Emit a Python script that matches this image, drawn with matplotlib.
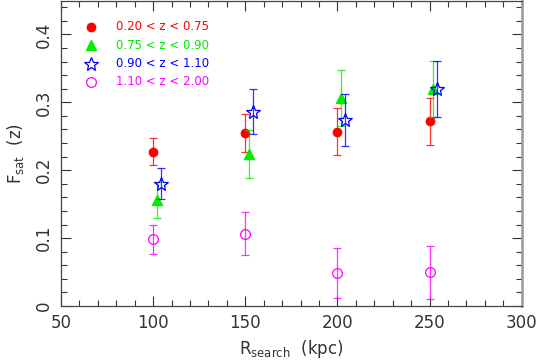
import matplotlib.pyplot as plt
from matplotlib.ticker import MultipleLocator

# satellite fraction vs search radius, four redshift bins
r_search = [100, 150, 200, 250]

labels = ['0.20 < z < 0.75', '0.75 < z < 0.90', '0.90 < z < 1.10', '1.10 < z < 2.00']
offsets = [0, 2, 4, 0]
colors = ['#ff0000', '#00ee00', '#0000ff', '#ff00ff']

f_red = [0.227, 0.255, 0.257, 0.272]
lo_red = [0.020, 0.028, 0.034, 0.035]
hi_red = [0.021, 0.028, 0.034, 0.035]

f_green = [0.156, 0.224, 0.307, 0.320]
lo_green = [0.027, 0.035, 0.042, 0.042]
hi_green = [0.027, 0.035, 0.041, 0.041]

f_blue = [0.180, 0.286, 0.274, 0.320]
lo_blue = [0.023, 0.032, 0.038, 0.042]
hi_blue = [0.023, 0.033, 0.038, 0.041]

f_mag = [0.098, 0.106, 0.049, 0.050]
lo_mag = [0.022, 0.031, 0.037, 0.039]
hi_mag = [0.022, 0.032, 0.037, 0.039]

fig = plt.figure(figsize=(5.38, 3.6), dpi=100)
ax = fig.add_axes([61/538, 1 - 306/360, (521.7 - 61)/538, 305.5/360])

series = [
    (f_red, lo_red, hi_red, dict(marker='o', ms=6, mfc=colors[0], mec=colors[0])),
    (f_green, lo_green, hi_green, dict(marker='^', ms=7, mfc=colors[1], mec=colors[1])),
    (f_blue, lo_blue, hi_blue, dict(marker='*', ms=10.5, mfc='none', mec=colors[2], mew=0.9)),
    (f_mag, lo_mag, hi_mag, dict(marker='o', ms=7, mfc='none', mec=colors[3], mew=0.9)),
]

for i, (f, lo, hi, mk) in enumerate(series):
    xs = [r + offsets[i] for r in r_search]
    ax.errorbar(xs, f, yerr=[lo, hi], fmt='none', ecolor=colors[i],
                elinewidth=0.9, capsize=3, capthick=0.9, alpha=0.8)
    ax.plot(xs, f, ls='none', **mk)

# legend drawn by hand as in the original
leg_y = [0.411, 0.384, 0.357, 0.330]
for i, (f, lo, hi, mk) in enumerate(series):
    ax.plot([66.5], [leg_y[i]], ls='none', **mk)
    ax.text(80, leg_y[i], labels[i], color=colors[i], fontsize=8.5,
            va='center', ha='left')

ax.set_xlim(50, 300)
ax.set_ylim(0, 0.45)
ax.xaxis.set_major_locator(MultipleLocator(50))
ax.xaxis.set_minor_locator(MultipleLocator(10))
ax.yaxis.set_major_locator(MultipleLocator(0.1))
ax.yaxis.set_minor_locator(MultipleLocator(0.02))
ax.set_xticks([50, 100, 150, 200, 250, 300])
ax.set_xticklabels(['50', '100', '150', '200', '250', '300'])
ax.set_yticks([0, 0.1, 0.2, 0.3, 0.4])
ax.set_yticklabels(['0', '0.1', '0.2', '0.3', '0.4'], rotation=90, va='center')

ax.tick_params(which='both', direction='in', top=True, right=True,
               color='#333333', labelsize=12, labelcolor='#333333', width=0.8)
ax.tick_params(which='major', length=7, pad=6)
ax.tick_params(which='minor', length=4)

for s in ['left', 'bottom', 'top']:
    ax.spines[s].set_color('#444444')
    ax.spines[s].set_linewidth(0.9)
ax.spines['right'].set_color('#999999')
ax.spines['right'].set_linewidth(1.8)

ax.set_xlabel(r'R$_{\rm search}$  (kpc)', fontsize=12, color='#333333', labelpad=4)
ax.set_ylabel(r'F$_{\rm sat}$  (z)', fontsize=12, color='#333333', labelpad=6)

fig.savefig('out.png', dpi=100)
